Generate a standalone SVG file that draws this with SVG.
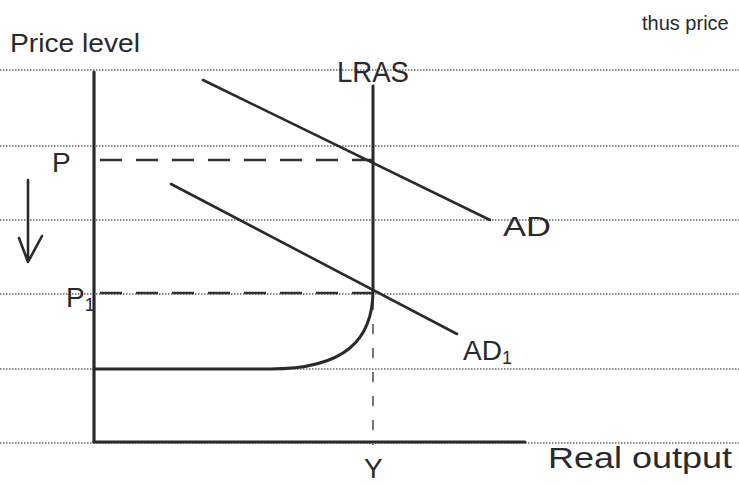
<svg xmlns="http://www.w3.org/2000/svg" width="739" height="486" viewBox="0 0 739 486">
<style>
.rule{stroke:#666;stroke-width:1.6;stroke-dasharray:1.5 1.5;fill:none}
.ink{stroke:#2a2a2a;fill:none;stroke-linecap:round;stroke-linejoin:round}
.axis{stroke-width:3.2}
.curve{stroke-width:3}
.ad{stroke-width:2.6}
.dash{stroke:#333;stroke-width:2.6;stroke-dasharray:22 14;fill:none}
.vdash{stroke:#555;stroke-width:1.6;stroke-dasharray:10 14;fill:none}
text{font-family:"Liberation Sans Narrow","Liberation Sans",Arial,sans-serif;fill:#2a2a2a}
</style>
<rect width="739" height="486" fill="#fff"/>
<g id="rules">
<line class="rule" x1="0" y1="70" x2="739" y2="70"/>
<line class="rule" x1="0" y1="146" x2="739" y2="146"/>
<line class="rule" x1="0" y1="220" x2="739" y2="220"/>
<line class="rule" x1="0" y1="294" x2="739" y2="294"/>
<line class="rule" x1="0" y1="369" x2="739" y2="369"/>
<line class="rule" x1="0" y1="443" x2="739" y2="443"/>
</g>
<g id="axes">
<line class="ink axis" x1="94" y1="72" x2="94" y2="442"/>
<line class="ink axis" x1="94" y1="442" x2="525" y2="442"/>
<text x="10" y="52" font-size="26" textLength="130" lengthAdjust="spacingAndGlyphs">Price level</text>
<text x="548" y="468" font-size="30" textLength="184" lengthAdjust="spacingAndGlyphs">Real output</text>
</g>
<g id="connectors">
<line class="dash" x1="100" y1="160" x2="373" y2="160"/>
<line class="dash" x1="100" y1="293" x2="373" y2="293"/>
<line class="vdash" x1="373" y1="300" x2="373" y2="445"/>
<path class="ink" d="M28,180 L28,262 M19,238 L28,262 L42,236" stroke-width="2.6"/>
</g>
<g id="lras">
<path class="ink curve" d="M373,86 L373,290 C373,340 345,369 270,369 L94,369"/>
<text x="337" y="82" font-size="30" textLength="72" lengthAdjust="spacingAndGlyphs">LRAS</text>
</g>
<g id="ad">
<line class="ink ad" x1="203" y1="80" x2="490" y2="220"/>
<text x="503" y="236" font-size="28" textLength="48" lengthAdjust="spacingAndGlyphs">AD</text>
</g>
<g id="ad1">
<line class="ink ad" x1="171" y1="184" x2="457" y2="334"/>
<text x="463" y="360" font-size="28">AD<tspan font-size="18" dy="4">1</tspan></text>
</g>
<g id="labels">
<text x="52" y="172" font-size="28">P</text>
<text x="66" y="307" font-size="28">P<tspan font-size="18" dy="4">1</tspan></text>
<text x="364" y="478" font-size="28">Y</text>
<text x="642" y="30" font-size="20">thus price</text>
</g>
</svg>
